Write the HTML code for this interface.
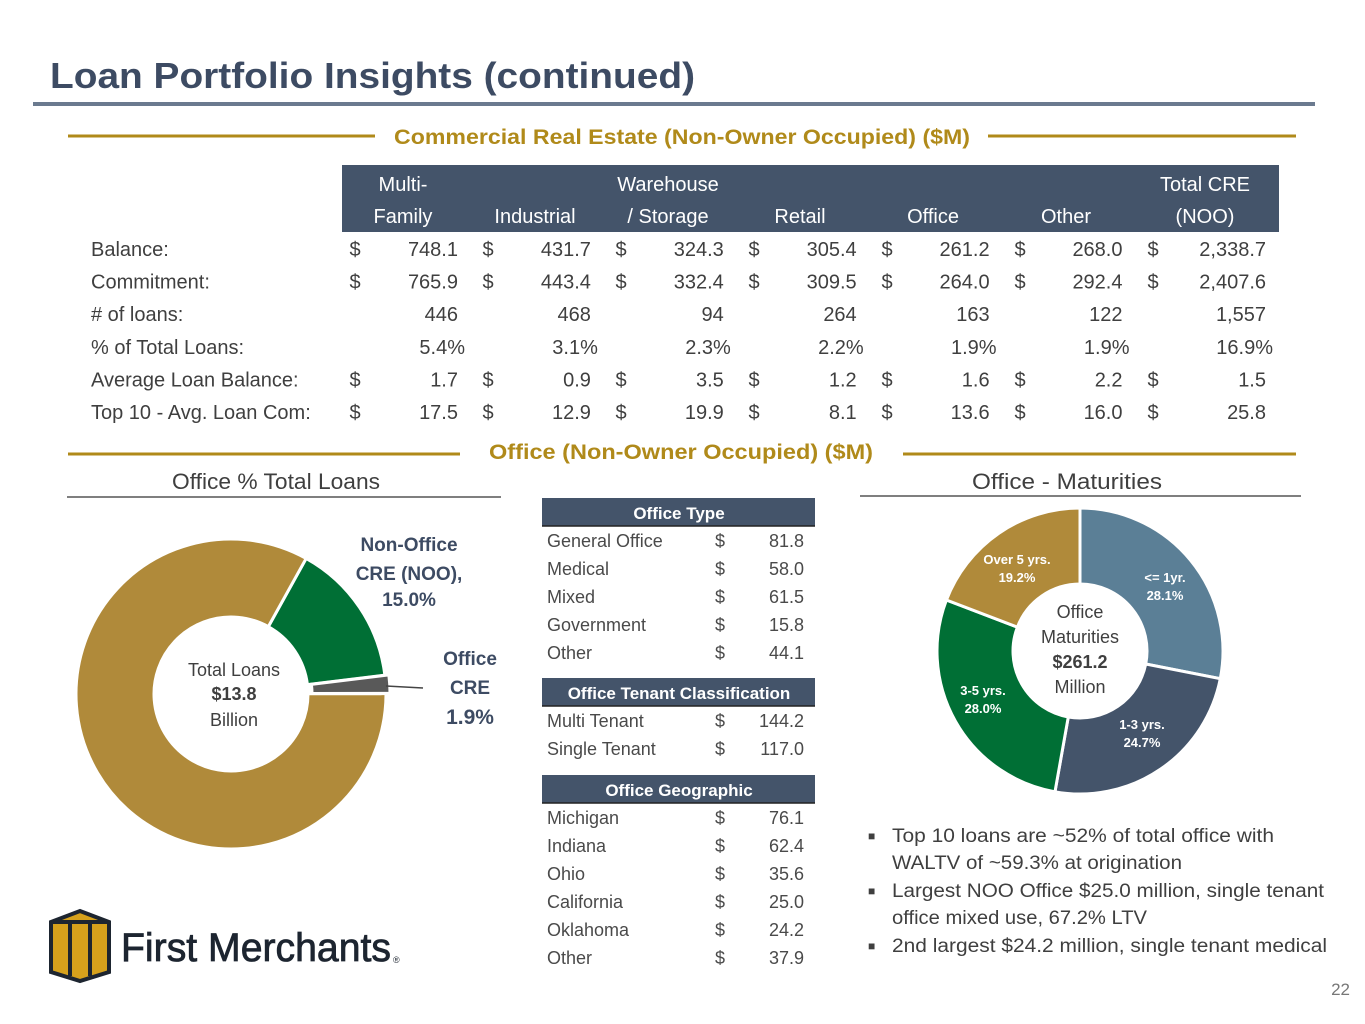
<!DOCTYPE html>
<html><head><meta charset="utf-8"><style>
body{margin:0;background:#fff}
svg{display:block;font-family:"Liberation Sans",sans-serif}
</style></head><body>
<svg id="s" width="1365" height="1024" viewBox="0 0 1365 1024">
<text x="50" y="88" font-size="36" font-weight="bold" fill="#3d4b63" textLength="645" lengthAdjust="spacingAndGlyphs">Loan Portfolio Insights (continued)</text>
<rect x="33" y="102" width="1282" height="4" fill="#6b7a8f"/>
<line x1="68" y1="136" x2="375" y2="136" stroke="#b08a1a" stroke-width="3"/>
<line x1="988" y1="136" x2="1296" y2="136" stroke="#b08a1a" stroke-width="3"/>
<text x="682" y="144" font-size="21" font-weight="bold" fill="#b08a1a" text-anchor="middle" textLength="576" lengthAdjust="spacingAndGlyphs">Commercial Real Estate (Non-Owner Occupied) ($M)</text>
<rect x="342" y="165" width="937" height="67" fill="#44546a"/>
<g id="hdr" font-size="20" fill="#fff" text-anchor="middle"></g>
<g id="body" font-size="20" fill="#3f3f3f"></g>

<line x1="68" y1="454" x2="460" y2="454" stroke="#b08a1a" stroke-width="3"/>
<line x1="903" y1="454" x2="1296" y2="454" stroke="#b08a1a" stroke-width="3"/>
<text x="681" y="459" font-size="21" font-weight="bold" fill="#b08a1a" text-anchor="middle" textLength="384" lengthAdjust="spacingAndGlyphs">Office (Non-Owner Occupied) ($M)</text>

<text x="276" y="489" font-size="22" fill="#3f3f3f" text-anchor="middle" textLength="208" lengthAdjust="spacingAndGlyphs">Office % Total Loans</text>
<line x1="67" y1="497" x2="501" y2="497" stroke="#555" stroke-width="1.5"/>
<text x="1067" y="489" font-size="22" fill="#3f3f3f" text-anchor="middle" textLength="190" lengthAdjust="spacingAndGlyphs">Office - Maturities</text>
<line x1="860" y1="496" x2="1301" y2="496" stroke="#555" stroke-width="1.5"/>

<g id="d1"></g>
<g id="d2"></g>

<g font-size="18" fill="#3f3f3f" text-anchor="middle">
<text x="234" y="676">Total Loans</text>
<text x="234" y="700" font-weight="bold">$13.8</text>
<text x="234" y="726">Billion</text>
</g>
<g font-size="19" font-weight="bold" fill="#3d4b63" text-anchor="middle">
<text x="409" y="551">Non-Office</text>
<text x="409" y="580">CRE (NOO),</text>
<text x="409" y="606">15.0%</text>
<text x="470" y="665">Office</text>
<text x="470" y="694">CRE</text>
<text x="470" y="724" font-size="21">1.9%</text>
</g>
<line x1="386" y1="686" x2="423" y2="688" stroke="#444" stroke-width="1.5"/>

<g font-size="18" fill="#3f3f3f" text-anchor="middle">
<text x="1080" y="618">Office</text>
<text x="1080" y="643">Maturities</text>
<text x="1080" y="668" font-weight="bold">$261.2</text>
<text x="1080" y="693">Million</text>
</g>
<g font-size="13" font-weight="bold" fill="#fff" text-anchor="middle">
<text x="1165" y="582">&lt;= 1yr.</text><text x="1165" y="600">28.1%</text>
<text x="1142" y="729">1-3 yrs.</text><text x="1142" y="747">24.7%</text>
<text x="983" y="695">3-5 yrs.</text><text x="983" y="713">28.0%</text>
<text x="1017" y="564">Over 5 yrs.</text><text x="1017" y="582">19.2%</text>
</g>

<g id="mt" font-size="18" fill="#4a4a4a"></g>

<g font-size="19" fill="#3f3f3f">
<text x="868" y="840" font-size="12">■</text><text x="892" y="842" textLength="382" lengthAdjust="spacingAndGlyphs">Top 10 loans are ~52% of total office with</text>
<text x="892" y="869" textLength="290" lengthAdjust="spacingAndGlyphs">WALTV of ~59.3% at origination</text>
<text x="868" y="895" font-size="12">■</text><text x="892" y="897" textLength="432" lengthAdjust="spacingAndGlyphs">Largest NOO Office $25.0 million, single tenant</text>
<text x="892" y="924" textLength="255" lengthAdjust="spacingAndGlyphs">office mixed use, 67.2% LTV</text>
<text x="868" y="950" font-size="12">■</text><text x="892" y="952" textLength="435" lengthAdjust="spacingAndGlyphs">2nd largest $24.2 million, single tenant medical</text>
</g>
<text x="1350" y="995" font-size="17" fill="#777" text-anchor="end">22</text>

<g>
<polygon points="51,922 80,911 109,922 109,972 80,981 51,972" fill="#d6a11c" stroke="#1d2530" stroke-width="4"/>
<line x1="51" y1="922" x2="109" y2="922" stroke="#1d2530" stroke-width="4"/>
<line x1="70" y1="922" x2="70" y2="976" stroke="#1d2530" stroke-width="4"/>
<line x1="90" y1="922" x2="90" y2="976" stroke="#1d2530" stroke-width="4"/>
<text x="121" y="961" font-size="40" fill="#1d2530" stroke="#1d2530" stroke-width="0.8" textLength="270" lengthAdjust="spacingAndGlyphs">First Merchants</text>
<text x="393" y="963" font-size="9" fill="#1d2530">®</text>
</g>
</svg>
<script>
const NS='http://www.w3.org/2000/svg';
function mk(p,t,a,txt){const e=document.createElementNS(NS,t);for(const k in a)e.setAttribute(k,a[k]);if(txt!==undefined)e.textContent=txt;p.appendChild(e);return e;}
// CRE table
const creCols=[['Multi-','Family'],['','Industrial'],['Warehouse','/ Storage'],['','Retail'],['','Office'],['','Other'],['Total CRE','(NOO)']];
const creRows=['Balance:','Commitment:','# of loans:','% of Total Loans:','Average Loan Balance:','Top 10 - Avg. Loan Com:'];
const creDollar=[true,true,false,false,true,true];
const creVals=[
['748.1','431.7','324.3','305.4','261.2','268.0','2,338.7'],
['765.9','443.4','332.4','309.5','264.0','292.4','2,407.6'],
['446','468','94','264','163','122','1,557'],
['5.4%','3.1%','2.3%','2.2%','1.9%','1.9%','16.9%'],
['1.7','0.9','3.5','1.2','1.6','2.2','1.5'],
['17.5','12.9','19.9','8.1','13.6','16.0','25.8']];
const hdr=document.getElementById('hdr'),body=document.getElementById('body');
const hx=[403,535,668,800,933,1066,1205];
creCols.forEach((c,i)=>{const t=mk(hdr,'text',{x:hx[i],y:191},c[0]);mk(hdr,'text',{x:hx[i],y:223},c[1]);});
creRows.forEach((r,j)=>{const y=256+j*32.6;
 const l=mk(body,'text',{x:91,y:y},r);
 creVals[j].forEach((v,i)=>{const dx=355+i*133, vx=(i==6?1266:458+i*132.9)+(j==3?7:0);
  if(creDollar[j]) mk(body,'text',{x:dx,y:y,'text-anchor':'middle'},'$');
  const t=mk(body,'text',{x:vx,y:y,'text-anchor':'end'},v);});});
// middle tables
const typeLabels=['General Office','Medical','Mixed','Government','Other'],typeVals=['81.8','58.0','61.5','15.8','44.1'];
const tenLabels=['Multi Tenant','Single Tenant'],tenVals=['144.2','117.0'];
const geoLabels=['Michigan','Indiana','Ohio','California','Oklahoma','Other'],geoVals=['76.1','62.4','35.6','25.0','24.2','37.9'];
const mt=document.getElementById('mt');
function tbl(title,top,labels,vals,name){
 const r=mk(mt,'rect',{x:542,y:top,width:273,height:28,fill:'#44546a'});
 mk(mt,'line',{x1:542,y1:top+28,x2:815,y2:top+28,stroke:'#222','stroke-width':1.5});
 mk(mt,'text',{x:679,y:top+21,'text-anchor':'middle',fill:'#fff','font-weight':'bold','font-size':17},title);
 labels.forEach((l,i)=>{const y=top+49+i*28;
  const t=mk(mt,'text',{x:547,y:y},l);
  mk(mt,'text',{x:720,y:y,'text-anchor':'middle'},'$');mk(mt,'text',{x:804,y:y,'text-anchor':'end'},vals[i]);});
}
tbl('Office Type',498,typeLabels,typeVals,'office-type');
tbl('Office Tenant Classification',678,tenLabels,tenVals,'office-tenant');
tbl('Office Geographic',775,geoLabels,geoVals,'office-geographic');
// donuts
function arc(cx,cy,r0,r1,a0,a1){const p=a=>[Math.sin(a*Math.PI/180),-Math.cos(a*Math.PI/180)];const[s0,c0]=p(a0),[s1,c1]=p(a1);const lg=(a1-a0)>180?1:0;
 return `M${cx+r1*s0},${cy+r1*c0}A${r1},${r1} 0 ${lg} 1 ${cx+r1*s1},${cy+r1*c1}L${cx+r0*s1},${cy+r0*c1}A${r0},${r0} 0 ${lg} 0 ${cx+r0*s0},${cy+r0*c0}Z`;}
const loanCats=['Non-Office CRE (NOO)','Office CRE','Other Loans'];
const loanPct=[15.0,1.9,83.1];
const loanColors=['#006f35','#595959','#b08a3a'];
const matCats=['<= 1yr.','1-3 yrs.','3-5 yrs.','Over 5 yrs.'];
const matPct=[28.1,24.7,28.0,19.2];
const matColors=['#5b7f96','#44546a','#006f35','#b08a3a'];
function donut(g,cats,vals,cols,cx,cy,r0,r1,start,explode){const tot=vals.reduce((a,b)=>a+b,0);let a=start;
 vals.forEach((v,i)=>{const s=v/tot*360;let ox=0,oy=0;if(explode&&explode[i]){const m=(a+s/2)*Math.PI/180;ox=Math.sin(m)*explode[i];oy=-Math.cos(m)*explode[i];}
  const p=mk(g,'path',{d:arc(cx+ox,cy+oy,r0,r1,a,a+s),fill:cols[i],stroke:'#fff','stroke-width':3});
  
  a+=s;});}
donut(document.getElementById('d1'),loanCats,loanPct,loanColors,231,694,77,155,29,[0,4,0]);
donut(document.getElementById('d2'),matCats,matPct,matColors,1080,651,67,143,0,null);
</script>
</body></html>
